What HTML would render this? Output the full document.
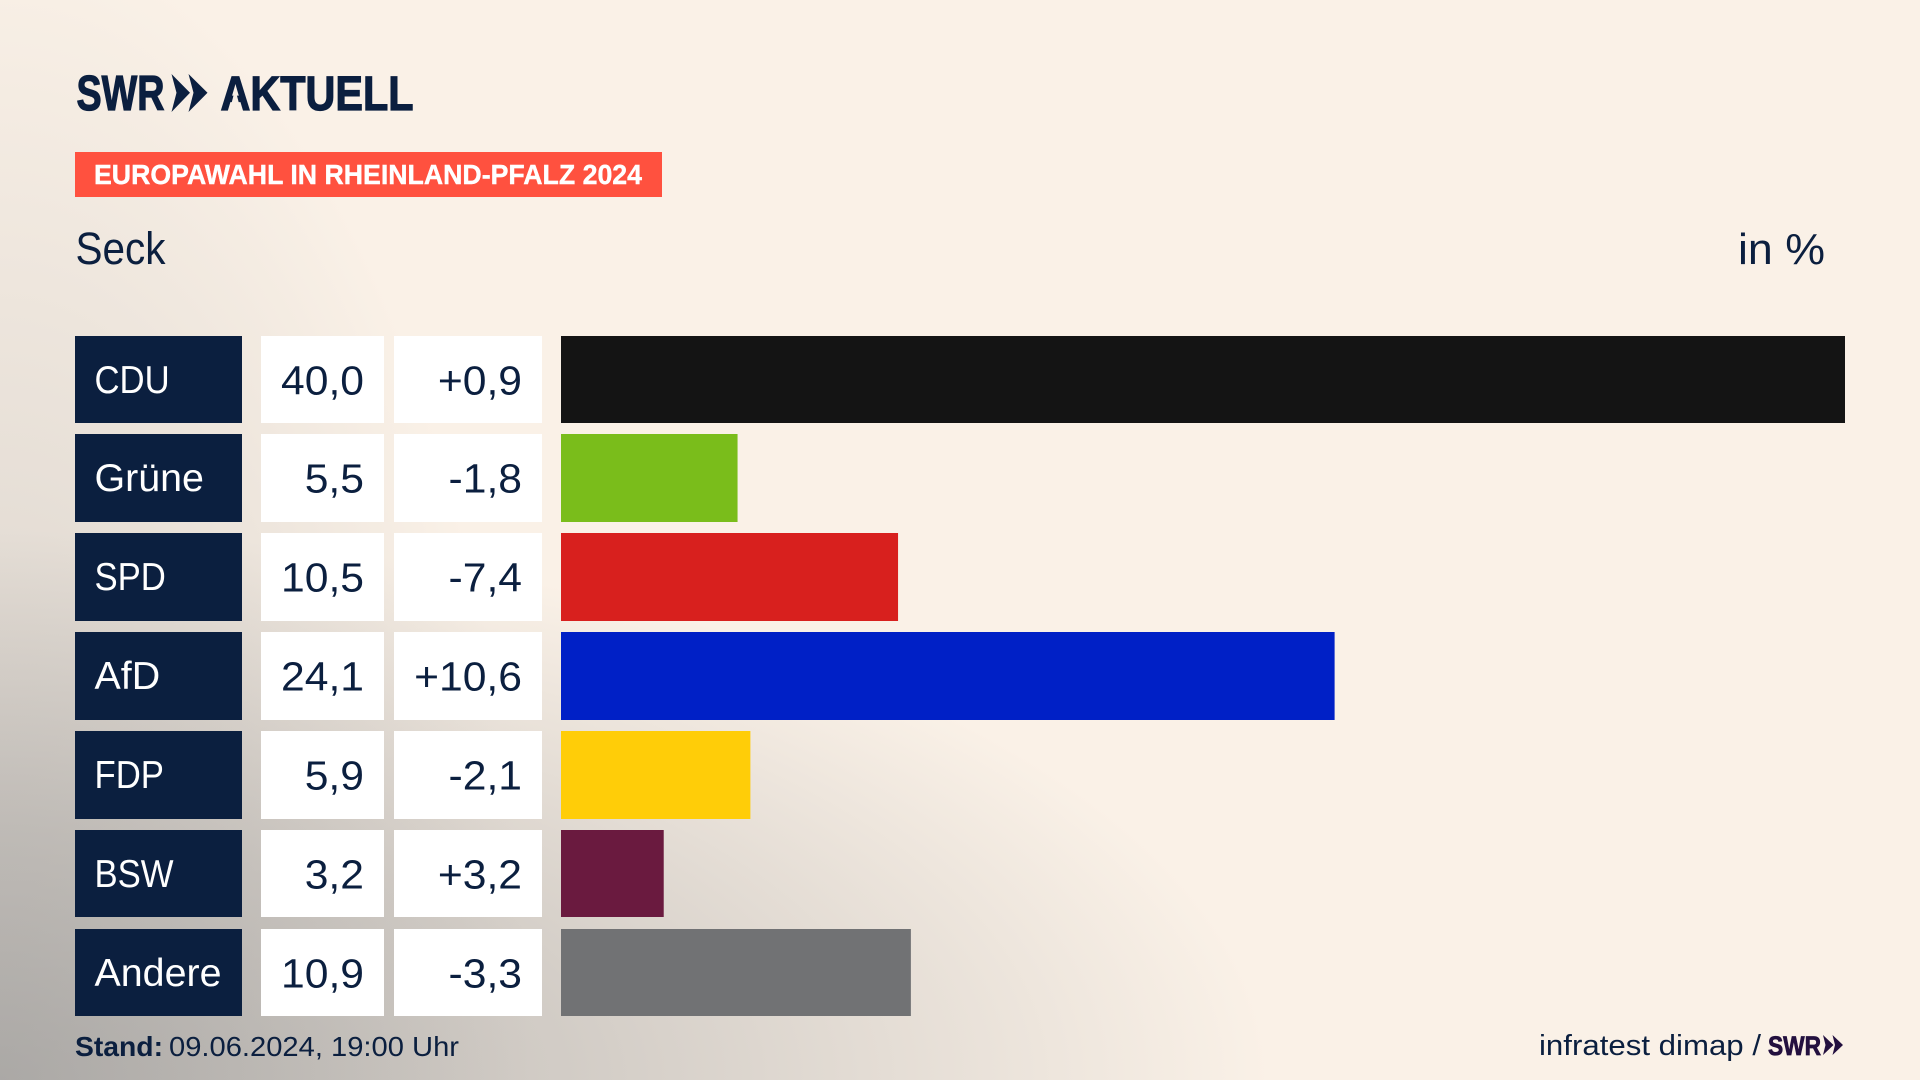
<!DOCTYPE html>
<html lang="de">
<head>
<meta charset="utf-8">
<title>Europawahl in Rheinland-Pfalz 2024 – Seck</title>
<style>
html,body{margin:0;padding:0;width:1920px;height:1080px;overflow:hidden;background:#faf1e7}
#stage{position:relative;width:1920px;height:1080px;background-color:#faf1e7;
background-image:
 radial-gradient(ellipse 530px 1150px at 0px 1080px,rgba(140,140,140,.36) 0%,rgba(140,140,140,0) 100%),
 radial-gradient(ellipse 1270px 550px at 0px 1080px,rgba(140,140,140,.56) 0%,rgba(140,140,140,.36) 45%,rgba(140,140,140,0) 100%);}
svg{position:absolute;left:0;top:0}
text{font-family:"Liberation Sans",sans-serif;fill:#0b1f3f}
.heavy{stroke:#0b1f3f;stroke-width:1.2px}
</style>
</head>
<body>
<div id="stage">
<svg id="chart" width="1920" height="1080" viewBox="0 0 1920 1080">
  <g>
    <text class="heavy" x="76.500" y="110" font-size="49" font-weight="700" textLength="88" lengthAdjust="spacingAndGlyphs">SWR</text>
    <polygon points="171.500,74 190,92.800 171.500,112 176.500,92.800" fill="#0b1f3f"/>
    <polygon points="188.500,74 207.500,92.800 188.500,112 193.500,92.800" fill="#0b1f3f"/>
    <text class="heavy" x="220.500" y="110" font-size="48" font-weight="700" textLength="193" lengthAdjust="spacingAndGlyphs">AKTUELL</text>
    <polygon points="235.200,89 229.500,111 241,111" fill="#f8efe5"/>
  </g>
  <rect x="75" y="152" width="587" height="45" fill="#ff513f"/>
  <text x="94" y="184" font-size="28" font-weight="700" style="fill:#fff;stroke:#fff;stroke-width:.4px" textLength="548" lengthAdjust="spacingAndGlyphs">EUROPAWAHL IN RHEINLAND-PFALZ 2024</text>
  <text x="75.500" y="264" font-size="45" textLength="90" lengthAdjust="spacingAndGlyphs">Seck</text>
  <text x="1738" y="264" font-size="44" textLength="87" lengthAdjust="spacingAndGlyphs">in %</text>
  <g id="rows"></g>
  <text x="75" y="1056" font-size="28" font-weight="700" textLength="88" lengthAdjust="spacingAndGlyphs">Stand:</text>
  <text x="169" y="1056" font-size="28" textLength="290" lengthAdjust="spacingAndGlyphs">09.06.2024, 19:00 Uhr</text>
  <text x="1539" y="1055" font-size="29" textLength="222" lengthAdjust="spacingAndGlyphs">infratest dimap /</text>
  <text x="1768" y="1055" font-size="27" font-weight="700" style="fill:#23103f;stroke:#23103f;stroke-width:.8px" textLength="53" lengthAdjust="spacingAndGlyphs">SWR</text>
  <polygon points="1823,1035 1833.500,1045 1823,1055 1825.500,1045" fill="#23103f"/>
  <polygon points="1832.500,1035 1843,1045 1832.500,1055 1835,1045" fill="#23103f"/>
</svg>
</div>
<script>
const parties = ["CDU", "Grüne", "SPD", "AfD", "FDP", "BSW", "Andere"];
const shares = [40.0, 5.5, 10.5, 24.1, 5.9, 3.2, 10.9];
const changes = [0.9, -1.8, -7.4, 10.6, -2.1, 3.2, -3.3];
const partyColors = ["#141414", "#7abd1b", "#d8201e", "#0020c6", "#ffcd08", "#6a1a3f", "#717274"];

const NS = "http://www.w3.org/2000/svg";
const rowsGroup = document.getElementById("rows");

const barLeft = 561;
const pxPerPoint = (1845 - 561) / 40;
function xScale(v) { return barLeft + v * pxPerPoint; }

function bandTop(i) { return Math.floor(336 + i * 98.85); }
function bandBottom(i) { return Math.round(423.2 + i * 98.83); }

function formatShare(v) { return v.toFixed(1).replace(".", ","); }
function formatChange(v) { return (v > 0 ? "+" : "") + v.toFixed(1).replace(".", ","); }

function makeRect(x, y, w, h, fill) {
  const r = document.createElementNS(NS, "rect");
  r.setAttribute("x", x);
  r.setAttribute("y", y);
  r.setAttribute("width", w);
  r.setAttribute("height", h);
  r.setAttribute("fill", fill);
  return r;
}
function makeText(str, x, y, anchor, sx, size, fill) {
  const t = document.createElementNS(NS, "text");
  t.textContent = str;
  t.setAttribute("text-anchor", anchor);
  t.setAttribute("font-size", size);
  t.setAttribute("transform", "translate(" + x + "," + y + ") scale(" + sx + ",1)");
  t.style.fill = fill;
  return t;
}

parties.forEach(function (party, i) {
  const y = bandTop(i);
  const h = bandBottom(i) - y;
  const key = party.toLowerCase().replace("ü", "ue");
  const labelFit = party === party.toUpperCase() ? 0.89 : 1.01;

  const labelBox = makeRect(75, y, 167, h, "#0b1f3f");
  
  
  rowsGroup.appendChild(labelBox);

  const labelText = makeText(party, 94.5, y + 57, "start", labelFit, 39, "#ffffff");
  
  
  rowsGroup.appendChild(labelText);

  const shareBox = makeRect(261, y, 123, h, "#ffffff");
  
  
  rowsGroup.appendChild(shareBox);

  const shareText = makeText(formatShare(shares[i]), 364, y + 58.5, "end", 1.04, 41, "#0b1f3f");
  
  
  rowsGroup.appendChild(shareText);

  const changeBox = makeRect(394, y, 148, h, "#ffffff");
  
  
  rowsGroup.appendChild(changeBox);

  const changeText = makeText(formatChange(changes[i]), 522, y + 58.5, "end", 1.04, 41, "#0b1f3f");
  
  
  rowsGroup.appendChild(changeText);

  const bar = makeRect(barLeft, y, xScale(shares[i]) - barLeft, h, partyColors[i]);
  
  
  rowsGroup.appendChild(bar);
});
</script>
</body>
</html>
